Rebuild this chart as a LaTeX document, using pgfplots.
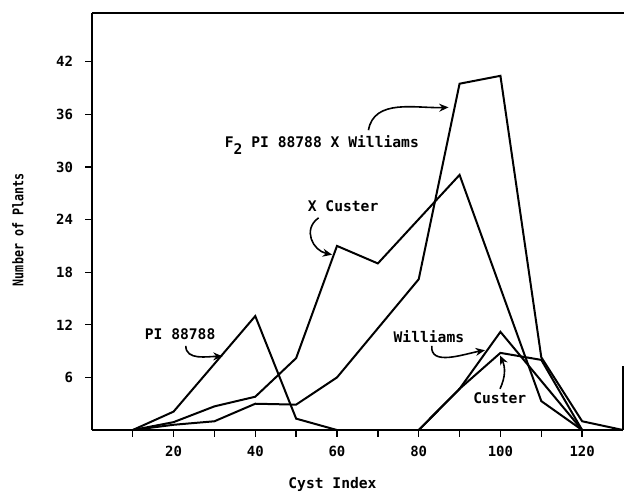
\documentclass[border=0pt]{standalone}
\usepackage{fontspec}
\setmainfont{DejaVu Sans Mono}
\newfontfamily\condmono[FakeStretch=0.8]{DejaVu Sans Mono}
\usepackage{pgfplots}
\pgfplotsset{compat=1.18}
\usetikzlibrary{arrows.meta}

\begin{document}
\begin{tikzpicture}
\begin{axis}[
  scale only axis,
  width=399pt,height=313.5pt,
  xmin=0,xmax=130,ymin=0,ymax=47.6,
  clip=false,
  axis x line=bottom,axis y line=left,
  axis line style={line width=1.4pt,-},
  every outer x axis line/.append style={-},
  every outer y axis line/.append style={-},
  xtick={20,40,...,120},
  minor xtick={10,30,...,110},
  ytick={6,12,...,42},
  tick align=outside,
  major tick length=5pt,minor tick length=5pt,
  every tick/.style={black,line width=1pt},
  /pgf/number format/assume math mode=true,
  ticklabel style={font=\bfseries\fontsize{10.5}{12}\selectfont},
  xticklabel style={anchor=north,inner sep=0pt},
  yticklabel style={anchor=east,inner sep=0pt},
  xticklabel shift=7pt,
  yticklabel shift=9pt,
  xlabel={Cyst Index},
  xlabel style={at={(axis description cs:0.453,-0.13)},anchor=center,
    font=\bfseries\fontsize{11}{13}\selectfont},
  ylabel={\condmono\bfseries Number of Plants},
  ylabel style={at={(axis description cs:-0.139,0.48)},anchor=center,
    font=\fontsize{11}{13}\selectfont},
]
% PI 88788
\addplot[black,line width=1.5pt] coordinates
  {(10,0)(20,2.1)(40,13.0)(50,1.3)(60,0)};
% F2 PI 88788 X Custer
\addplot[black,line width=1.5pt] coordinates
  {(10,0)(20,0.9)(30,2.7)(40,3.8)(50,8.2)(60,21.0)(70,19.0)(90,29.1)(110,3.3)(120,0)};
% F2 PI 88788 X Williams
\addplot[black,line width=1.5pt] coordinates
  {(10,0)(20,0.6)(30,1.0)(40,3.0)(50,2.9)(60,6.0)(80,17.2)(90,39.5)(100,40.4)(110,8.3)(120,1.0)(130,0)};
% Williams
\addplot[black,line width=1.5pt] coordinates
  {(80,0)(90,4.7)(100,11.2)(120,0)};
% Custer
\addplot[black,line width=1.5pt] coordinates
  {(80,0)(90,4.7)(100,8.8)(110,8.0)(120,0)};

% frame top and the bit of right edge
\draw[line width=1.4pt] (rel axis cs:0,1) -- (rel axis cs:1.002,1);
\draw[line width=1pt] (rel axis cs:1,0) -- (axis cs:130,7.3);

% annotations
\begin{scope}[font=\bfseries\fontsize{11}{13}\selectfont]
\node[anchor=west,inner sep=0pt] at (axis cs:32.5,32.5) {F\raisebox{-0.8ex}{2} PI 88788 X Williams};
\draw[line width=1.2pt,-{Stealth[length=7pt,width=6pt]}]
  (axis cs:67.7,34.2) to[out=80,in=182] (axis cs:87.3,36.8);
\node[anchor=west,inner sep=0pt] at (axis cs:52.8,25.5) {X Custer};
\draw[line width=1.2pt,-{Stealth[length=7pt,width=6pt]}]
  (axis cs:55.5,24.2) to[out=215,in=168,looseness=1.3] (axis cs:58.8,20.0);
\node[anchor=west,inner sep=0pt] at (axis cs:12.9,10.9) {PI 88788};
\draw[line width=1.2pt,-{Stealth[length=7pt,width=6pt]}]
  (axis cs:23.0,9.6) to[out=270,in=180] (axis cs:32.0,8.4);
\node[anchor=west,inner sep=0pt] at (axis cs:73.8,10.6) {Williams};
\draw[line width=1.2pt,-{Stealth[length=7pt,width=6pt]}]
  (axis cs:83.2,9.6) to[out=265,in=190] (axis cs:96.2,9.1);
\node[anchor=west,inner sep=0pt] at (axis cs:93.3,3.6) {Custer};
\draw[line width=1.2pt,-{Stealth[length=7pt,width=6pt]}]
  (axis cs:99.9,4.7) to[bend right=25] (axis cs:99.9,8.5);
\end{scope}

% page size
\path (rel axis cs:-0.1729,-0.1467) rectangle (rel axis cs:1.0019,1.0304);
\end{axis}
\end{tikzpicture}
\end{document}
